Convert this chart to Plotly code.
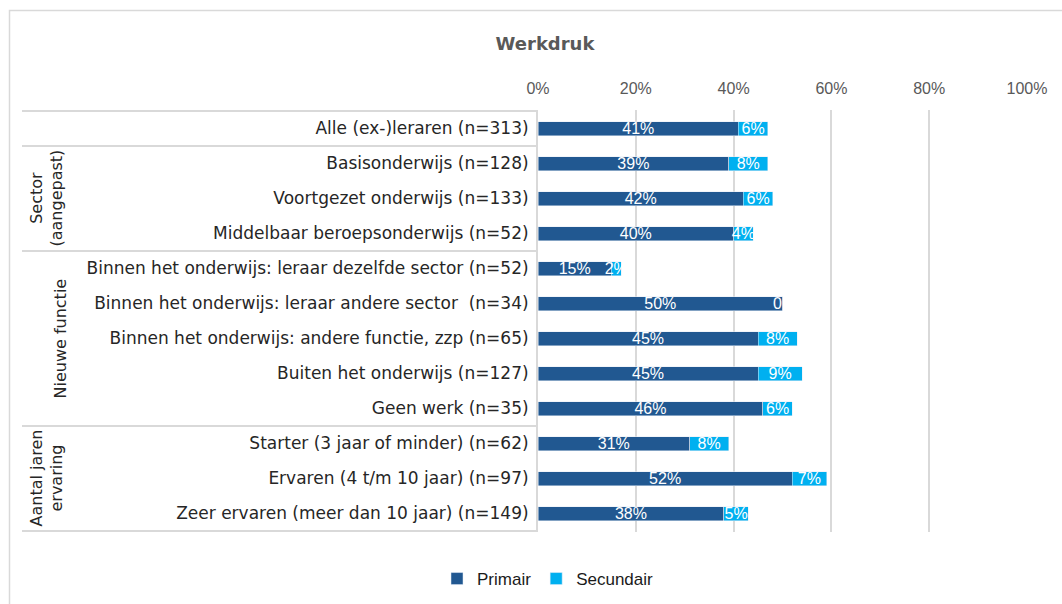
import plotly.graph_objects as go

categories = [
    "Alle (ex-)leraren (n=313)",
    "Basisonderwijs (n=128)",
    "Voortgezet onderwijs (n=133)",
    "Middelbaar beroepsonderwijs (n=52)",
    "Binnen het onderwijs: leraar dezelfde sector (n=52)",
    "Binnen het onderwijs: leraar andere sector  (n=34)",
    "Binnen het onderwijs: andere functie, zzp (n=65)",
    "Buiten het onderwijs (n=127)",
    "Geen werk (n=35)",
    "Starter (3 jaar of minder) (n=62)",
    "Ervaren (4 t/m 10 jaar) (n=97)",
    "Zeer ervaren (meer dan 10 jaar) (n=149)",
]
primair = [41, 39, 42, 40, 15, 50, 45, 45, 46, 31, 52, 38]
secundair = [6, 8, 6, 4, 2, 0, 8, 9, 6, 8, 7, 5]

groups = [
    ("", 1),
    ("Sector<br>(aangepast)", 3),
    ("Nieuwe functie", 5),
    ("Aantal jaren<br>ervaring", 3),
]
group_label_x = [None, 46, 60, 46]  # pixel x of rotated group label centres

tick_vals = [0, 20, 40, 60, 80, 100]
tick_text = ["0%", "20%", "40%", "60%", "80%", "100%"]

C_PRIM = "#215891"
C_SEC = "#00B0F0"
GRID = "#D9D9D9"

W, H = 1062, 604
ML, MR, MT, MB = 538, 35, 110, 72
PW = W - ML - MR
PH = H - MT - MB


def px_x(p):
    return (p - ML) / PW


def px_y(p):
    return (H - MB - p) / PH


bar_font = dict(family="Liberation Sans", size=16, color="white")
label_font = dict(family="DejaVu Sans", size=17, color="#262626")

fig = go.Figure()
fig.add_trace(go.Bar(
    y=categories, x=primair, orientation="h", name="Primair",
    marker=dict(color=C_PRIM),
    text=[f"{v}%" for v in primair], textposition="inside", insidetextanchor="middle",
    textangle=0, constraintext="none", textfont=bar_font,
))
fig.add_trace(go.Bar(
    y=categories, x=secundair, orientation="h", name="Secundair",
    marker=dict(color=C_SEC),
    text=[f"{v}%" if v > 0 else "" for v in secundair], textposition="inside", insidetextanchor="middle",
    textangle=0, constraintext="none", textfont=bar_font,
))

annotations = []
# zero-valued secundair labels shown at bar end
for i, (p, s) in enumerate(zip(primair, secundair)):
    if s == 0:
        annotations.append(dict(x=p + s, y=categories[i], xref="x", yref="y", text="0",
                                showarrow=False, xanchor="right", xshift=1, font=bar_font))

shapes = []
# outer chart border
shapes.append(dict(type="rect", xref="paper", yref="paper",
                   x0=px_x(9.5), x1=px_x(1070), y0=px_y(10.5), y1=px_y(620),
                   line=dict(color=GRID, width=1.5), fillcolor="rgba(0,0,0,0)", layer="below"))
# table separators
start = 0
bounds = [-0.5]
for name, n in groups:
    start += n
    bounds.append(start - 0.5)
for b in bounds:
    shapes.append(dict(type="line", xref="paper", yref="y", x0=px_x(22), x1=0, y0=b, y1=b,
                       line=dict(color=GRID, width=2), layer="below"))

start = 0
for (name, n), gx in zip(groups, group_label_x):
    if name:
        annotations.append(dict(x=px_x(gx), y=start + (n - 1) / 2, xref="paper", yref="y",
                                text=name, showarrow=False, textangle=-90,
                                font=dict(family="DejaVu Sans", size=16, color="#262626"),
                                xanchor="center", yanchor="middle"))
    start += n

fig.update_layout(
    width=W, height=H,
    margin=dict(l=ML, r=MR, t=MT, b=MB),
    paper_bgcolor="white", plot_bgcolor="white",
    barmode="stack", bargap=0.6,
    title=dict(text="<b>Werkdruk</b>", x=545 / W, xanchor="center", y=1 - 44 / H, yanchor="middle",
               font=dict(family="DejaVu Sans", size=18, color="#595959")),
    xaxis=dict(side="top", range=[0, 100], tickvals=tick_vals, ticktext=tick_text,
               showgrid=True, gridcolor=GRID, gridwidth=2, zeroline=False, showline=False,
               ticks="", ticklabelstandoff=12,
               tickfont=dict(family="Liberation Sans", size=16, color="#595959")),
    yaxis=dict(autorange="reversed", showline=True, linecolor=GRID, linewidth=2,
               showgrid=False, ticks="", ticklabelstandoff=4,
               tickfont=label_font),
    legend=dict(orientation="h", xref="container", yref="container",
                x=548 / W, xanchor="center", y=1 - 579 / H, yanchor="middle",
                font=dict(family="Liberation Sans", size=17, color="#1a1a1a"), traceorder="normal"),
    shapes=shapes, annotations=annotations,
)

fig.write_html("out.html", config={"displayModeBar": False},
               post_script="document.body.style.margin='0';")
